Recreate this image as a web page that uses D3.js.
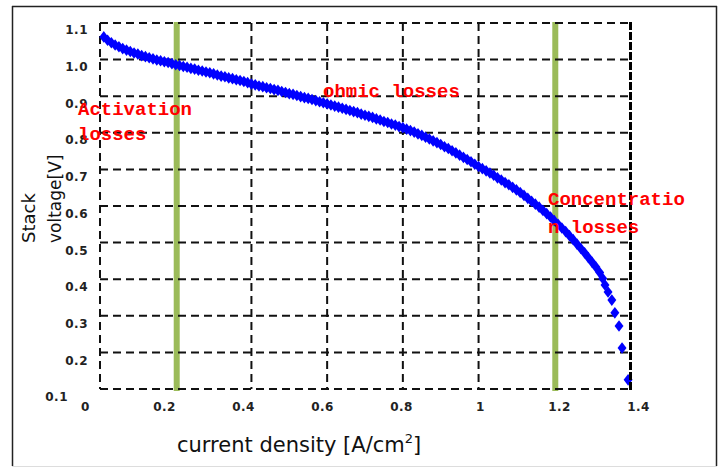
<!DOCTYPE html>
<html>
<head>
<meta charset="utf-8">
<script src="https://cdn.jsdelivr.net/npm/d3@7"></script>
<style>
  html, body { margin: 0; padding: 0; background: #fff; }
  svg { display: block; }
</style>
</head>
<body>
<svg id="chart" width="726" height="468"></svg>
<script>
// Polarization curve of a fuel-cell stack: current density [A/cm2] vs stack voltage [V]
const currentDensity = [
  0.01, 0.02, 0.03, 0.04, 0.05, 0.06, 0.07, 0.08, 0.09, 0.10,
  0.11, 0.12, 0.13, 0.14, 0.15, 0.16, 0.17, 0.18, 0.19, 0.20,
  0.21, 0.22, 0.23, 0.24, 0.25, 0.26, 0.27, 0.28, 0.29, 0.30,
  0.31, 0.32, 0.33, 0.34, 0.35, 0.36, 0.37, 0.38, 0.39, 0.40,
  0.41, 0.42, 0.43, 0.44, 0.45, 0.46, 0.47, 0.48, 0.49, 0.50,
  0.51, 0.52, 0.53, 0.54, 0.55, 0.56, 0.57, 0.58, 0.59, 0.60,
  0.61, 0.62, 0.63, 0.64, 0.65, 0.66, 0.67, 0.68, 0.69, 0.70,
  0.71, 0.72, 0.73, 0.74, 0.75, 0.76, 0.77, 0.78, 0.79, 0.80,
  0.81, 0.82, 0.83, 0.84, 0.85, 0.86, 0.87, 0.88, 0.89, 0.90,
  0.91, 0.92, 0.93, 0.94, 0.95, 0.96, 0.97, 0.98, 0.99, 1.00,
  1.01, 1.02, 1.03, 1.04, 1.05, 1.06, 1.07, 1.08, 1.09, 1.10,
  1.11, 1.12, 1.13, 1.14, 1.15, 1.16, 1.17, 1.18, 1.19, 1.20,
  1.21, 1.22, 1.23, 1.24, 1.25, 1.26, 1.27, 1.28, 1.29, 1.30,
  1.31, 1.32, 1.328, 1.334, 1.342, 1.352, 1.360, 1.371, 1.379, 1.395
];
const stackVoltage = [
  1.062, 1.053, 1.046, 1.040, 1.035, 1.030, 1.026, 1.022, 1.018, 1.015,
  1.011, 1.008, 1.005, 1.002, 0.999, 0.997, 0.994, 0.992, 0.989, 0.986,
  0.984, 0.981, 0.979, 0.976, 0.974, 0.971, 0.969, 0.966, 0.964, 0.961,
  0.958, 0.955, 0.953, 0.950, 0.948, 0.945, 0.943, 0.940, 0.937, 0.933,
  0.931, 0.928, 0.926, 0.923, 0.921, 0.918, 0.916, 0.913, 0.910, 0.907,
  0.905, 0.902, 0.899, 0.896, 0.894, 0.891, 0.888, 0.885, 0.882, 0.879,
  0.876, 0.873, 0.870, 0.867, 0.864, 0.861, 0.858, 0.855, 0.851, 0.848,
  0.845, 0.842, 0.838, 0.835, 0.831, 0.828, 0.824, 0.821, 0.817, 0.814,
  0.810, 0.806, 0.802, 0.797, 0.793, 0.788, 0.783, 0.778, 0.773, 0.768,
  0.762, 0.757, 0.751, 0.745, 0.739, 0.733, 0.727, 0.721, 0.714, 0.708,
  0.702, 0.696, 0.690, 0.684, 0.677, 0.671, 0.664, 0.658, 0.651, 0.644,
  0.637, 0.629, 0.621, 0.613, 0.605, 0.597, 0.588, 0.579, 0.570, 0.560,
  0.550, 0.540, 0.530, 0.519, 0.508, 0.496, 0.484, 0.472, 0.459, 0.446,
  0.433, 0.418, 0.402, 0.384, 0.365, 0.343, 0.308, 0.272, 0.212, 0.125
];

const xTicks = [0, 0.2, 0.4, 0.6, 0.8, 1.0, 1.2, 1.4];
const xTickLabels = ["0", "0.2", "0.4", "0.6", "0.8", "1", "1.2", "1.4"];
const yTicks = [0.1, 0.2, 0.3, 0.4, 0.5, 0.6, 0.7, 0.8, 0.9, 1.0, 1.1];
const yTickLabels = ["0.1", "0.2", "0.3", "0.4", "0.5", "0.6", "0.7", "0.8", "0.9", "1.0", "1.1"];

// current densities separating the three loss regions
const regionBounds = [0.2, 1.2];
const regionNames = [["Activation", "losses"], ["ohmic losses"], ["Concentratio", "n losses"]];

const svg = d3.select("#chart");

// plot frame
const plot = { left: 100, right: 630, top: 23, bottom: 389 };

const x = d3.scaleLinear().domain([0, 1.4]).range([plot.left, plot.right]);
const y = d3.scaleLinear().domain([0.1, 1.1]).range([plot.bottom, plot.top]);
// tick labels sit on a slightly wider band, below/left of the grid
const xLabel = x.copy().range([85, 638]);
const yLabel = y.copy().range([397, 30]);

// outer border
const border = svg.append("g").attr("stroke", "#222").attr("stroke-width", 1.5);
border.append("line").attr("x1", 12.5).attr("x2", 12.5).attr("y1", 6).attr("y2", 466);
border.append("line").attr("x1", 12).attr("x2", 717).attr("y1", 6.5).attr("y2", 6.5);
border.append("line").attr("x1", 716.5).attr("x2", 716.5).attr("y1", 6).attr("y2", 466);
svg.append("line").attr("x1", 12).attr("x2", 717).attr("y1", 466.5).attr("y2", 466.5)
  .attr("stroke", "#ddd").attr("stroke-width", 1);

const gridStyle = g => g.attr("stroke", "#111").attr("stroke-width", 2)
  .attr("stroke-dasharray", "8,5").attr("fill", "none");

// vertical dashed grid
svg.append("g").call(gridStyle)
  .selectAll("line").data(xTicks.slice(0, -1)).join("line")
  .attr("x1", d => x(d)).attr("x2", d => x(d))
  .attr("y1", plot.top).attr("y2", plot.bottom);

// region dividers
svg.append("g").selectAll("line").data(regionBounds).join("line")
  .attr("x1", d => x(d) + 1).attr("x2", d => x(d) + 1)
  .attr("y1", plot.top - 1).attr("y2", plot.bottom + 2)
  .attr("stroke", "#9bbb59").attr("stroke-width", 6);

// horizontal dashed grid
svg.append("g").call(gridStyle)
  .selectAll("line").data(yTicks).join("line")
  .attr("x1", plot.left).attr("x2", plot.right)
  .attr("y1", d => y(d)).attr("y2", d => y(d));

// diamond markers
const diamond = {
  draw(ctx, size) {
    const w = Math.sqrt(size / 2.6), h = w * 1.3;
    ctx.moveTo(0, -h); ctx.lineTo(w, 0); ctx.lineTo(0, h); ctx.lineTo(-w, 0); ctx.closePath();
  }
};
const points = currentDensity.map((c, i) => ({ c, v: stackVoltage[i] }));
svg.append("g").selectAll("path").data(points).join("path")
  .attr("transform", d => `translate(${x(d.c)},${y(d.v)})`)
  .attr("d", d3.symbol().type(diamond).size(52))
  .attr("fill", "#0000ff");

// right edge of the plot
svg.append("line")
  .attr("x1", x(1.4) + 0.5).attr("x2", x(1.4) + 0.5)
  .attr("y1", plot.top - 1).attr("y2", plot.bottom + 1)
  .attr("stroke", "#000").attr("stroke-width", 3).attr("stroke-dasharray", "8,2");

// tick labels
const tickFont = "DejaVu Sans, Verdana, sans-serif";
const xAxis = d3.axisBottom(xLabel).tickValues(xTicks)
  .tickFormat((d, i) => xTickLabels[i]).tickSize(0).tickPadding(0);
svg.append("g").attr("transform", "translate(0,402)").call(xAxis)
  .call(g => g.select(".domain").remove())
  .selectAll("text").attr("font-family", tickFont).attr("font-size", 12)
  .attr("font-weight", "bold").attr("fill", "#222").attr("letter-spacing", 0.5);

const yAxis = d3.axisLeft(yLabel).tickValues(yTicks)
  .tickFormat((d, i) => yTickLabels[i]).tickSize(0).tickPadding(0);
svg.append("g").attr("transform", "translate(88,0)").call(yAxis)
  .call(g => g.select(".domain").remove())
  .selectAll("text").attr("font-family", tickFont).attr("font-size", 12)
  .attr("font-weight", "bold").attr("fill", "#222").attr("letter-spacing", 0.5)
  // the lowest label steps aside for the "0" of the x axis
  .attr("dx", d => d === yTicks[0] ? -20 : 0);

// axis titles
const titleFont = "DejaVu Sans, Verdana, sans-serif";
svg.append("text").attr("transform", "translate(35,243) rotate(-90)")
  .attr("font-family", titleFont).attr("font-size", 18).attr("fill", "#111")
  .text("Stack");
svg.append("text").attr("transform", "translate(61,243) rotate(-90)")
  .attr("font-family", titleFont).attr("font-size", 17).attr("fill", "#111")
  .text("voltage[V]");

const xt = svg.append("text").attr("x", 177).attr("y", 452)
  .attr("font-family", titleFont).attr("font-size", 21).attr("fill", "#111");
xt.append("tspan").text("current density [A/cm");
xt.append("tspan").attr("font-size", 13).attr("dy", -9).text("2");
xt.append("tspan").attr("dy", 9).text("]");

// region annotations
const notePos = [[78, 115], [323, 97], [548, 205]];
const lineGap = [25, 0, 28];
const notes = svg.append("g").attr("fill", "#ff0000")
  .attr("font-family", "Liberation Mono, Courier New, monospace")
  .attr("font-size", 19).attr("font-weight", "bold");
regionNames.forEach((lines, i) => {
  const t = notes.append("text").attr("x", notePos[i][0]).attr("y", notePos[i][1]);
  lines.forEach((s, j) => {
    t.append("tspan").attr("x", notePos[i][0]).attr("dy", j === 0 ? 0 : lineGap[i]).text(s);
  });
});
</script>
</body>
</html>
